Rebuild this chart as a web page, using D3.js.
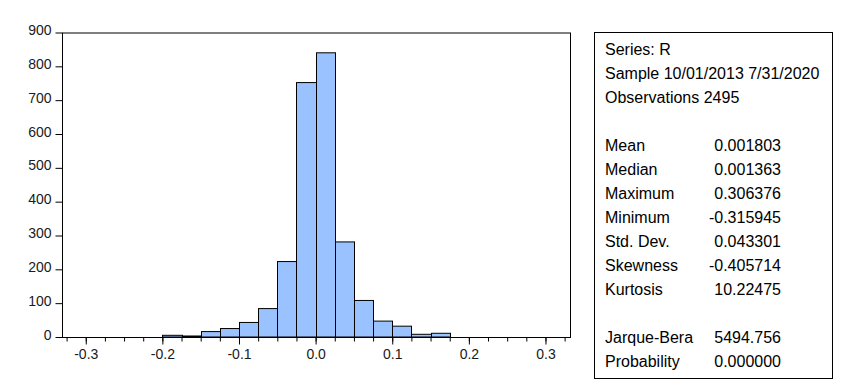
<!DOCTYPE html>
<html>
<head>
<meta charset="utf-8">
<script src="https://cdn.jsdelivr.net/npm/d3@7"></script>
<style>
  body { margin: 0; background: #fff; }
  svg { display: block; font-family: "Liberation Sans", Arial, sans-serif; }
  .axis text { font-family: "Liberation Sans", Arial, sans-serif; font-size: 14px; fill: #1a1a1a; }
  .axis path, .axis line { stroke: #000; }
  .bar { fill: #99c2ff; stroke: #000; stroke-width: 1; }
  .stats text { font-size: 16px; fill: #000; }
</style>
</head>
<body>
<svg width="847" height="392"></svg>
<script>
// histogram bins (lower edge, width 0.025) and counts
var binWidth = 0.025;
var binLow = [-0.2, -0.175, -0.15, -0.125, -0.1, -0.075, -0.05, -0.025,
              0.0, 0.025, 0.05, 0.075, 0.1, 0.125, 0.15];
var counts = [5, 3, 16, 25, 43, 84, 223, 752,
              840, 281, 108, 47, 32, 8, 11];

var xTicks = [-0.3, -0.2, -0.1, 0.0, 0.1, 0.2, 0.3];
var yTicks = [0, 100, 200, 300, 400, 500, 600, 700, 800, 900];

// stats panel
var headerLines = ["Series: R", "Sample 10/01/2013 7/31/2020", "Observations 2495"];
var statNames = ["Mean", "Median", "Maximum", "Minimum", "Std. Dev.", "Skewness", "Kurtosis"];
var statValues = ["0.001803", "0.001363", "0.306376", "-0.315945", "0.043301", "-0.405714", "10.22475"];
var testNames = ["Jarque-Bera", "Probability"];
var testValues = ["5494.756", "0.000000"];

var svg = d3.select("svg");

var x = d3.scaleLinear().domain([-0.331, 0.332]).range([62, 570]);
var y = d3.scaleLinear().domain([0, 900]).range([337, 32.5]);

var data = binLow.map(function(d, i) { return {x0: d, x1: d + binWidth, n: counts[i]}; });

// bars
svg.append("g").selectAll("rect")
  .data(data)
  .enter().append("rect")
  .attr("class", "bar")
  .attr("x", function(d) { return Math.round(x(d.x0)) + 0.5; })
  .attr("width", function(d) { return Math.round(x(d.x1)) - Math.round(x(d.x0)); })
  .attr("y", function(d) { return y(d.n); })
  .attr("height", function(d) { return y(0) - y(d.n); });

// frame
svg.append("rect")
  .attr("x", x.range()[0] + 0.5)
  .attr("y", y.range()[1] + 0.5)
  .attr("width", x.range()[1] - x.range()[0])
  .attr("height", y.range()[0] - y.range()[1])
  .attr("fill", "none")
  .attr("stroke", "#000");

// y axis
var yAxis = svg.append("g")
  .attr("class", "axis")
  .attr("transform", "translate(" + (x.range()[0] + 0.5) + ",0)")
  .call(d3.axisLeft(y).tickValues(yTicks).tickSize(7).tickPadding(4).tickSizeOuter(0));
yAxis.select(".domain").remove();
yAxis.selectAll("text").attr("dy", "0.15em");

// x axis minor ticks every 0.025
var minor = d3.range(-13, 14).map(function(i) { return i * 0.025; });
svg.append("g")
  .attr("class", "axis")
  .attr("transform", "translate(0," + (y(0) + 0.5) + ")")
  .call(d3.axisBottom(x).tickValues(minor).tickSize(4).tickFormat(""))
  .select(".domain").remove();

// x axis major ticks + labels
svg.append("g")
  .attr("class", "axis")
  .attr("transform", "translate(0," + (y(0) + 0.5) + ")")
  .call(d3.axisBottom(x).tickValues(xTicks).tickSize(7).tickPadding(5)
    .tickFormat(function(d) { return d.toFixed(1); }))
  .select(".domain").remove();

// stats box
var stats = svg.append("g").attr("class", "stats");
stats.append("rect")
  .attr("x", 594.5).attr("y", 32.5)
  .attr("width", 238).attr("height", 346)
  .attr("fill", "#fff").attr("stroke", "#000");

var rowY = function(i) { return 54.5 + i * 24; };
var textX = 605, valueX = 781;

headerLines.forEach(function(t, i) {
  stats.append("text").attr("x", textX).attr("y", rowY(i)).text(t);
});
statNames.forEach(function(t, i) {
  stats.append("text").attr("x", textX).attr("y", rowY(i + 4)).text(t);
  stats.append("text").attr("x", valueX).attr("y", rowY(i + 4))
    .attr("text-anchor", "end").text(statValues[i]);
});
testNames.forEach(function(t, i) {
  stats.append("text").attr("x", textX).attr("y", rowY(i + 12)).text(t);
  stats.append("text").attr("x", valueX).attr("y", rowY(i + 12))
    .attr("text-anchor", "end").text(testValues[i]);
});
</script>
</body>
</html>
